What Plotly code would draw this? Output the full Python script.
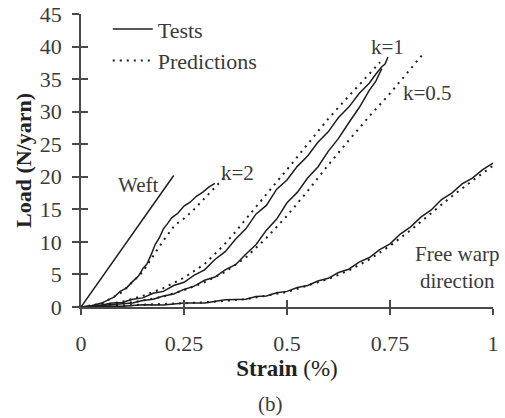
import plotly.graph_objects as go

# ---------------- data (strain %, load N/yarn) ----------------
weft_test_x = [0, 0.05, 0.1, 0.15, 0.2, 0.225]
weft_test_y = [0, 4.5, 9.0, 13.5, 18.0, 20.2]

k2_test_x = [0, 0.025, 0.05, 0.065, 0.08, 0.095, 0.11, 0.125, 0.14, 0.15, 0.16, 0.17,
             0.18, 0.19, 0.2, 0.21, 0.22, 0.235, 0.25, 0.265, 0.28, 0.295, 0.31, 0.325]
k2_test_y = [0, 0.2, 0.6, 1.1, 1.5, 2.4, 2.9, 3.9, 4.8, 5.9, 6.6, 8.0,
             9.6, 10.6, 12.0, 12.8, 13.7, 14.4, 15.5, 16.1, 17.0, 17.6, 18.4, 19.0]
k2_pred_x = [0, 0.05, 0.1, 0.15, 0.18, 0.2, 0.228, 0.25, 0.27, 0.29, 0.31, 0.33, 0.354]
k2_pred_y = [0, 0.5, 2.3, 5.4, 8.3, 10.2, 12.6, 13.6, 14.7, 16.0, 17.4, 18.7, 20.3]

k1_test_x = [0, 0.025, 0.05, 0.075, 0.1, 0.125, 0.15, 0.175, 0.2, 0.225, 0.25, 0.275, 0.3,
             0.325, 0.35, 0.375, 0.4, 0.425, 0.45, 0.475, 0.5, 0.525, 0.55, 0.575, 0.6,
             0.625, 0.65, 0.675, 0.7, 0.715, 0.73, 0.738, 0.745]
k1_test_y = [0, 0.1, 0.3, 0.6, 0.7, 1.2, 1.4, 2.1, 2.4, 3.3, 3.8, 4.9, 5.7,
             7.3, 8.5, 10.4, 12.0, 14.3, 15.6, 18.1, 19.5, 21.6, 23.2, 25.3, 26.9,
             29.1, 30.7, 32.8, 34.4, 35.7, 36.9, 37.3, 38.4]
k1_pred_x = [0, 0.05, 0.1, 0.15, 0.2, 0.25, 0.3, 0.345, 0.369, 0.41, 0.451, 0.5, 0.55,
             0.6, 0.65, 0.7, 0.726]
k1_pred_y = [0, 0.3, 0.8, 1.7, 2.9, 4.5, 6.6, 9.4, 11.1, 14.3, 17.4, 21.1, 25.0,
             28.9, 32.4, 35.9, 37.6]

k05_test_x = [0, 0.025, 0.05, 0.075, 0.1, 0.125, 0.15, 0.175, 0.2, 0.225, 0.25, 0.275, 0.3,
              0.325, 0.35, 0.375, 0.4, 0.425, 0.45, 0.475, 0.5, 0.525, 0.55, 0.575, 0.6,
              0.625, 0.65, 0.675, 0.7, 0.715, 0.73]
k05_test_y = [0, 0.1, 0.2, 0.3, 0.5, 0.6, 1.0, 1.2, 1.7, 2.0, 2.7, 3.2, 4.1,
              4.6, 5.7, 6.5, 8.1, 9.6, 11.8, 13.5, 16.0, 17.6, 19.8, 21.5, 23.9,
              25.9, 28.3, 30.6, 33.3, 34.6, 36.6]
k05_pred_x = [0, 0.05, 0.1, 0.15, 0.2, 0.25, 0.3, 0.35, 0.4, 0.45, 0.5, 0.55, 0.6,
              0.65, 0.7, 0.75, 0.8, 0.828]
k05_pred_y = [0, 0.2, 0.5, 1.0, 1.6, 2.6, 3.8, 5.4, 7.6, 10.6, 14.0, 17.8, 21.8,
              25.6, 29.3, 32.8, 36.6, 38.7]

warp_test_x = [0, 0.05, 0.1, 0.15, 0.2, 0.25, 0.3, 0.35, 0.4, 0.425, 0.45, 0.475, 0.5,
               0.525, 0.55, 0.575, 0.6, 0.625, 0.65, 0.675, 0.7, 0.725, 0.75, 0.775,
               0.8, 0.825, 0.85, 0.875, 0.9, 0.925, 0.95, 0.975, 1.0]
warp_test_y = [0, 0.15, 0.1, 0.35, 0.3, 0.6, 0.6, 1.1, 1.2, 1.6, 1.7, 2.2, 2.4,
               3.0, 3.3, 4.0, 4.4, 5.3, 5.8, 6.9, 7.6, 8.8, 9.7, 11.2,
               12.3, 13.8, 14.9, 16.5, 17.5, 18.9, 19.8, 21.1, 22.1]
warp_pred_x = [0, 0.1, 0.2, 0.3, 0.4, 0.5, 0.6, 0.65, 0.7, 0.75, 0.8, 0.85, 0.9, 0.95, 1.0]
warp_pred_y = [0, 0.2, 0.4, 0.7, 1.2, 2.3, 4.3, 5.6, 7.3, 9.4, 11.8, 14.4, 17.0, 19.4, 21.7]

x_tick_vals = [0, 0.25, 0.5, 0.75, 1]
x_tick_text = ["0", "0.25", "0.5", "0.75", "1"]
y_tick_vals = [0, 5, 10, 15, 20, 25, 30, 35, 40, 45]

# ---------------- styling ----------------
FONT = "Liberation Serif"
LINE_COL = "#1e1e1e"
TEXT_COL = "#3a3a3a"
AXIS_COL = "#4a4a4a"
DOT = "2px,5px"

fig = go.Figure()

tests = [(weft_test_x, weft_test_y), (k2_test_x, k2_test_y), (k1_test_x, k1_test_y),
         (k05_test_x, k05_test_y), (warp_test_x, warp_test_y)]
preds = [(k2_pred_x, k2_pred_y), (k1_pred_x, k1_pred_y), (k05_pred_x, k05_pred_y),
         (warp_pred_x, warp_pred_y)]

for i, (xs, ys) in enumerate(tests):
    fig.add_trace(go.Scatter(x=xs, y=ys, mode="lines", name="Tests",
                             legendgroup="tests", showlegend=(i == 0),
                             line=dict(color=LINE_COL, width=1.5), cliponaxis=False))
for i, (xs, ys) in enumerate(preds):
    fig.add_trace(go.Scatter(x=xs, y=ys, mode="lines", name="Predictions",
                             legendgroup="preds", showlegend=(i == 0),
                             line=dict(color=LINE_COL, width=2, dash=DOT), cliponaxis=False))

# dummy trace for overlay axes (inner half of crossing ticks)
fig.add_trace(go.Scatter(x=[], y=[], xaxis="x2", yaxis="y2", showlegend=False, hoverinfo="skip"))

tickfont = dict(family=FONT, size=22, color=TEXT_COL)

fig.update_layout(
    width=505, height=418,
    margin=dict(l=81, r=12, t=14, b=111, autoexpand=False),
    paper_bgcolor="white", plot_bgcolor="white",
    font=dict(family=FONT, size=21, color=TEXT_COL),
    xaxis=dict(range=[0, 1], tickvals=x_tick_vals, ticktext=x_tick_text, automargin=False,
               showline=True, linecolor=AXIS_COL, linewidth=1.5,
               ticks="outside", ticklen=6, tickwidth=1.5, tickcolor=AXIS_COL,
               showgrid=False, zeroline=False, tickfont=tickfont,
               ticklabelstandoff=10, ticklabeloverflow="allow",
               title=dict(text="<b>Strain</b> (%)", font=dict(family=FONT, size=23, color="#222"),
                          standoff=2)),
    yaxis=dict(range=[0, 45], tickvals=y_tick_vals, automargin=False,
               showline=True, linecolor=AXIS_COL, linewidth=1.5,
               ticks="outside", ticklen=7, tickwidth=1.5, tickcolor=AXIS_COL,
               showgrid=False, zeroline=False, tickfont=tickfont,
               ticklabelstandoff=6, ticklabeloverflow="allow",
               title=dict(text="<b>Load (N/yarn)</b>", font=dict(family=FONT, size=22, color="#222"),
                          standoff=2)),
    xaxis2=dict(range=[0, 1], tickvals=x_tick_vals, overlaying="x", anchor="y2", side="bottom",
                ticks="inside", ticklen=7, tickwidth=1.5, tickcolor=AXIS_COL, automargin=False,
                showticklabels=False, showline=False, showgrid=False, zeroline=False),
    yaxis2=dict(range=[0, 45], tickvals=y_tick_vals, overlaying="y", anchor="x2", side="left",
                ticks="inside", ticklen=7, tickwidth=1.5, tickcolor=AXIS_COL, automargin=False,
                showticklabels=False, showline=False, showgrid=False, zeroline=False),
    legend=dict(x=0.065, y=1.02, xanchor="left", yanchor="top", bgcolor="rgba(0,0,0,0)",
                font=dict(family=FONT, size=22, color=TEXT_COL), tracegroupgap=0,
                itemwidth=40),
    showlegend=True,
)

ann_font = dict(family=FONT, size=21, color=TEXT_COL)
labels = [("Weft", 0.138, 18.7), ("k=2", 0.381, 20.6), ("k=1", 0.745, 39.9),
          ("k=0.5", 0.842, 32.9), ("Free warp<br>direction", 0.915, 6.1)]
for txt, lx, ly in labels:
    fig.add_annotation(x=lx, y=ly, xref="x", yref="y", text=txt, showarrow=False,
                       font=ann_font, align="center")

fig.add_annotation(x=0.461, y=-0.331, xref="paper", yref="paper", text="(b)", showarrow=False,
                   font=ann_font, xanchor="center", yanchor="middle")

# remove the browser's default 8px page margin so the figure fills the window exactly
fig.write_html("out.html", config={"displayModeBar": False},
               post_script="document.body.style.margin='0px';document.body.style.overflow='hidden';")
